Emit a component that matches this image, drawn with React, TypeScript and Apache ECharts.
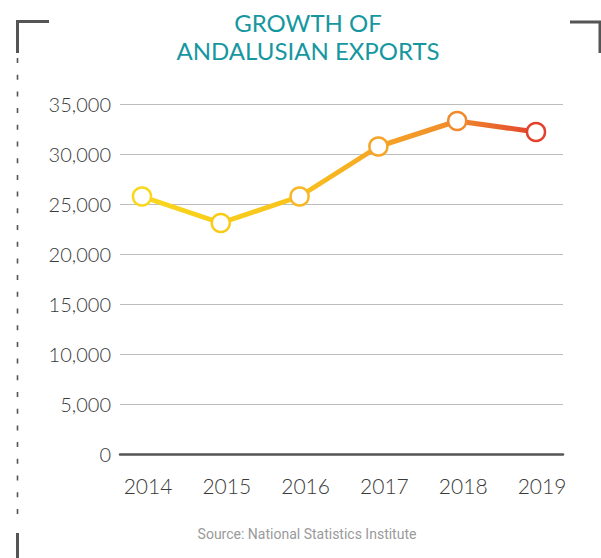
import React, { useEffect, useRef } from "react";
import * as echarts from "echarts";

const titleLines = ["GROWTH OF", "ANDALUSIAN EXPORTS"];
const years = ["2014", "2015", "2016", "2017", "2018", "2019"];
const exportsValues = [25750, 23100, 25750, 30750, 33300, 32200];
const pointColors = ["#f9d71c", "#f9cb17", "#f8b724", "#f6a426", "#f08a2c", "#e2412d"];
const yTicks = [0, 5000, 10000, 15000, 20000, 25000, 30000, 35000];
const sourceText = "Source: National Statistics Institute";

export default function App() {
  const ref = useRef<HTMLDivElement>(null);
  useEffect(() => {
    if (!ref.current) return;
    const chart = echarts.init(ref.current, null, { renderer: "svg" });
    const yMin = yTicks[0];
    const yMax = yTicks[yTicks.length - 1];
    const step = yTicks[1] - yTicks[0];
    const font = "Lato, 'Open Sans', sans-serif";
    chart.setOption({
      animation: false,
      grid: [
        { left: 120, right: 38, top: 104, bottom: 104 },
        { left: 142, right: 65, top: 104, bottom: 104 },
      ],
      xAxis: [
        {
          gridIndex: 0,
          type: "category",
          data: years,
          boundaryGap: false,
          axisLine: { show: true, lineStyle: { color: "#555", width: 2.5 } },
          axisTick: { show: false },
          axisLabel: { show: false },
          splitLine: { show: false },
        },
        {
          gridIndex: 1,
          type: "category",
          data: years,
          boundaryGap: false,
          axisLine: { show: false },
          axisTick: { show: false },
          axisLabel: {
            show: true,
            margin: 21,
            color: "#3a3a3a",
            fontSize: 21,
            fontWeight: 300,
            fontFamily: font,
            padding: [0, 0, 0, 12],
          },
          splitLine: { show: false },
        },
      ],
      yAxis: [
        {
          gridIndex: 0,
          type: "value",
          min: yMin,
          max: yMax,
          interval: step,
          axisLine: { show: false },
          axisTick: { show: false },
          axisLabel: {
            margin: 9,
            color: "#3a3a3a",
            fontSize: 20,
            fontWeight: 300,
            fontFamily: font,
            formatter: (v: number) => v.toLocaleString("en-US"),
          },
          splitLine: { show: true, lineStyle: { color: "#bdbdbd", width: 1 } },
        },
        {
          gridIndex: 1,
          type: "value",
          min: yMin,
          max: yMax,
          interval: step,
          axisLine: { show: false },
          axisTick: { show: false },
          axisLabel: { show: false },
          splitLine: { show: false },
        },
      ],
      series: [
        {
          type: "line",
          xAxisIndex: 1,
          yAxisIndex: 1,
          data: exportsValues.map((v, i) => ({
            value: v,
            itemStyle: { borderColor: pointColors[i] },
          })),
          symbol: "circle",
          symbolSize: 18,
          itemStyle: { color: "#fff", borderWidth: 2.5 },
          lineStyle: {
            width: 5,
            color: {
              type: "linear",
              x: 0,
              y: 0,
              x2: 1,
              y2: 0,
              colorStops: [
                { offset: 0, color: "#f9d71c" },
                { offset: 0.4, color: "#f8c21c" },
                { offset: 0.6, color: "#f6a526" },
                { offset: 0.8, color: "#f08a2c" },
                { offset: 1, color: "#e2412d" },
              ],
            },
          },
          z: 5,
        },
      ],
      graphic: [
        {
          type: "text",
          x: 308,
          y: 8,
          style: {
            text: titleLines.join("\n"),
            fill: "#16979f",
            font: `24px ${font}`,
            textAlign: "center",
            lineHeight: 28,
          },
        },
        {
          type: "text",
          x: 307,
          y: 527,
          style: {
            text: sourceText,
            fill: "#9a9a9a",
            font: "14px Roboto, sans-serif",
            textAlign: "center",
          },
        },
        {
          type: "polyline",
          shape: { points: [[17.5, 53], [17.5, 21.5], [49, 21.5]] },
          style: { stroke: "#555", lineWidth: 3, fill: null },
        },
        {
          type: "line",
          shape: { x1: 17.5, y1: 58, x2: 17.5, y2: 520 },
          style: { stroke: "#555", lineWidth: 1.6, lineDash: [5, 11.7] },
        },
        {
          type: "line",
          shape: { x1: 17.5, y1: 533, x2: 17.5, y2: 558 },
          style: { stroke: "#555", lineWidth: 3 },
        },
        {
          type: "polyline",
          shape: { points: [[570, 22], [600, 22], [600, 53]] },
          style: { stroke: "#555", lineWidth: 3, fill: null },
        },
      ],
    });
    return () => chart.dispose();
  }, []);
  return (
    <div
      ref={ref}
      style={{ position: "absolute", left: 0, top: 0, width: 601, height: 558 }}
    />
  );
}
